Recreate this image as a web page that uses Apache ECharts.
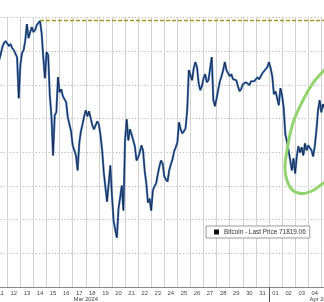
<!DOCTYPE html>
<html><head><meta charset="utf-8">
<script src="https://cdn.jsdelivr.net/npm/echarts@6/dist/echarts.min.js"></script>
<style>html,body{margin:0;padding:0;background:#fff}#c{width:324px;height:302px}</style>
</head><body><div id="c"></div>
<script>
// Bitcoin price, 3-hourly samples starting 2024-03-11 09:00 UTC.
// x unit: day of March (32 = Apr 1)
const seriesStartHour = 9;
const stepHours = 3;
const btcPrice = [
71460, 71820, 72240, 72480, 72600, 72650, 72300, 72420, 72180, 72060,
72120, 71640, 69200, 71170, 71880, 72060, 72650, 73600, 72770, 73130,
73430, 73130, 73250, 73550, 73670, 73790, 73070, 71640, 70390, 71940,
71760, 69380, 68130, 65810, 68190, 68370, 70450, 69560, 69740, 69320,
69260, 68960, 68070, 68010, 67240, 66400, 66400, 65810, 64920, 66520,
67240, 67650, 68130, 68490, 68130, 68430, 68010, 67600, 67360, 67300,
67830, 67650, 67000, 66110, 64800, 63910, 63070, 63130, 65210, 63430,
61940, 61400, 60930, 62650, 63310, 64020, 62540, 66700, 67950, 66700,
67360, 67060, 66700, 66350, 65510, 65690, 65990, 66400, 66110, 64920,
64140, 63010, 63250, 62540, 63730, 63970, 64140, 64680, 65150, 65510,
65330, 64560, 64380, 64260, 64920, 65270, 65570, 66050, 66290, 66580,
67770, 67360, 67120, 67240, 67420, 68490, 70870, 70810, 70270, 70990,
71350, 71050, 70100, 69680, 69920, 70390, 70630, 70150, 70270, 70270,
71640, 69080, 68730, 69200, 69740, 70210, 70510, 70870, 71350, 70870,
70870, 70510, 70630, 70330, 70270, 70270, 69920, 69620, 69740, 70040,
70100, 70150, 70100, 69980, 70210, 70100, 70210, 70210, 70450, 70330,
70510, 70690, 70690, 70930, 71050, 71350, 70990, 70510, 69440, 69620,
69680, 68790, 69800, 69380, 68610, 67060, 66640, 66110, 65510, 64920,
65630, 64740, 65750, 66350, 65990, 66290, 65810, 66520, 66110, 66400,
66350, 66110, 65750, 66350, 67300, 68490, 69080, 68370, 68850, 68610
];
const dayTickStart = 11;
const dayTickLabels = ['11','12','13','14','15','16','17','18','19','20','21','22','23','24','25','26','27','28','29','30','31','01','02','03','04','05'];
const monthLabels = ['Mar 2024', 'Apr 2024'];
const monthLabelPos = [18, 36];
const monthBoundary = [32];
const athLevel = 73830;
const athFrom = 14.5;
const lastPrice = '71819.06';
// hand-drawn highlight ellipse, anchors in (day, price)
const circleAnchors = [[37.81,72357],[36.21,70869],[35.36,70095],[34.60,69084],[33.83,67715],[33.38,66108],[33.22,65096],[33.38,64322],[33.83,63727],[34.60,63549],[35.36,63727],[36.13,64144],[37.43,64798]];

const data = btcPrice.map((p, i) => [dayTickStart + (seriesStartHour + i * stepHours) / 24, p]);
const FONT = 'Liberation Sans';

const chart = echarts.init(document.getElementById('c'), null, {renderer: 'canvas'});
chart.setOption({
  animation: false,
  backgroundColor: '#fff',
  grid: {left: -5.8, right: -10.4, top: 17.4, bottom: 15, containLabel: false, outerBoundsMode: 'none'},
  legend: {
    left: 206, top: 226,
    data: [{name: 'Bitcoin', icon: 'rect', itemStyle: {color: '#111'}}],
    itemWidth: 5, itemHeight: 5, itemGap: 4,
    formatter: n => n + ' - Last Price ' + lastPrice,
    textStyle: {fontSize: 6.4, fontFamily: FONT, color: '#333'},
    padding: [3, 4, 3, 8],
    borderColor: '#999', borderWidth: 1, backgroundColor: '#fff',
    selectedMode: false
  },
  xAxis: [{
    type: 'value', min: 11, max: 37, interval: 1,
    axisLine: {show: true, lineStyle: {color: '#888', width: 1}},
    axisTick: {show: false},
    splitLine: {show: true, lineStyle: {color: '#d2d2d2', width: 1}},
    axisLabel: {
      customValues: dayTickLabels.map((_, k) => dayTickStart + k + 0.5),
      formatter: v => dayTickLabels[Math.floor(v) - dayTickStart],
      fontSize: 5.8, fontFamily: FONT, color: '#444', margin: 3
    }
  }, {
    type: 'value', min: 11, max: 37, position: 'bottom',
    axisLine: {show: false},
    splitLine: {show: false},
    axisTick: {show: true, customValues: monthBoundary, length: 15, lineStyle: {color: '#555', width: 1}},
    axisLabel: {
      customValues: monthLabelPos,
      formatter: v => monthLabels[monthLabelPos.indexOf(v)],
      fontSize: 5.8, fontFamily: FONT, color: '#444', margin: 9
    }
  }],
  yAxis: {
    type: 'value', min: 58000, max: 74000, interval: 2000,
    axisLabel: {show: false}, axisLine: {show: false}, axisTick: {show: false},
    splitLine: {show: true, lineStyle: {type: [1.2, 2], color: '#b5b5b5', width: 1}}
  },
  series: [{
    name: 'BitcoinGlow', type: 'line', data: data, showSymbol: false, symbol: 'none',
    lineStyle: {color: '#4d7dc0', width: 2.2}, silent: true, z: 2
  }, {
    name: 'Bitcoin', type: 'line', data: data, showSymbol: false, symbol: 'none',
    lineStyle: {color: '#13223e', width: 0.9}, itemStyle: {color: '#111'}, z: 3,
    markLine: {
      silent: true, symbol: 'none', label: {show: false},
      lineStyle: {color: '#9a9e26', type: [4, 2], width: 1.3},
      data: [[{coord: [athFrom, athLevel]}, {coord: [37, athLevel]}]]
    }
  }, {
    name: 'highlight', type: 'custom', coordinateSystem: 'cartesian2d', clip: false, silent: true, z: 5,
    data: [[35, 66000]],
    renderItem: (params, api) => ({
      type: 'polyline',
      shape: {points: circleAnchors.map(a => api.coord(a)), smooth: 0.4},
      style: {stroke: '#93d46e', lineWidth: 3, fill: null}
    })
  }]
});
</script>
</body></html>
